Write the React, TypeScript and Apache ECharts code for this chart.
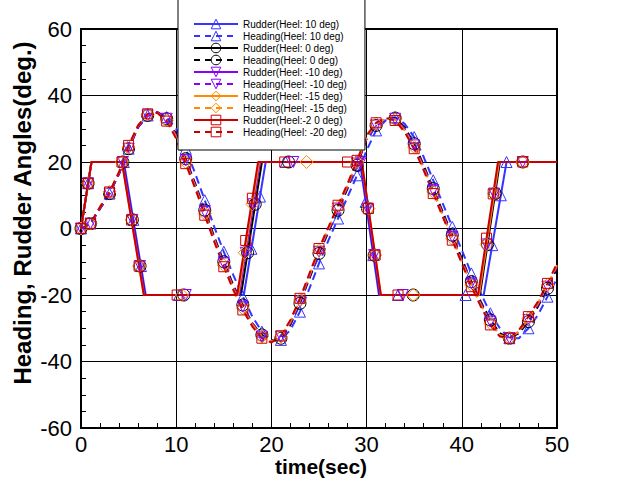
import React, { useEffect, useRef } from "react";
import * as echarts from "echarts";

const FONT = "'Liberation Sans', Arial, Helvetica, sans-serif";

// time grid of heading samples (s)
const timeSec = [
  0, 1, 2, 3, 4, 5, 6, 7, 8, 9, 10, 11, 12, 13, 14, 15, 16, 17, 18, 19, 20, 21, 22, 23, 24, 25,
  26, 27, 28, 29, 30, 31, 32, 33, 34, 35, 36, 37, 38, 39, 40, 41, 42, 43, 44, 45, 46, 47, 48, 49, 50,
];

// Heading (deg) for each heel angle
const headingHeel10 = [
  0, 1.5, 6, 10.5, 16.5, 24, 30.5, 34, 35, 33.5, 30, 24, 16.5, 8.5, 0.5, -7, -14, -20.5, -26.5, -31,
  -33.5, -33.5, -30.5, -25, -18, -10.5, -3.5, 3, 9.5, 16, 23.5, 29.5, 32.5, 33.5, 31.5, 27.5, 21.5,
  14.5, 7.5, 0.5, -6.5, -13.5, -19.5, -25.5, -30, -33, -33, -30, -26, -20.5, -15,
];
const headingHeel0 = [
  0, 1.5, 6, 10.5, 16.5, 24, 30.5, 34, 35, 33, 28.5, 21, 13.5, 5.5, -2.5, -10, -17, -23, -28.5, -32,
  -34, -33, -29, -22.5, -15, -7.5, -1, 5.5, 12, 19, 27, 31, 33, 33.2, 30.5, 25.5, 19, 12, 5, -2, -9,
  -16, -22, -27.5, -31.5, -33, -31.5, -28, -23.5, -18, -12,
];
const headingHeelM10 = [
  0, 1.5, 6, 10.5, 16.5, 24, 30.5, 34, 35, 33, 28, 20.5, 13, 5, -3, -10.5, -17.5, -23.5, -28.5, -32.5,
  -34, -32.5, -28.5, -22, -14.5, -7, -0.5, 6, 12.5, 19.5, 27, 31, 33, 33, 30, 25, 18.5, 11.5, 4.5,
  -2.5, -9.5, -16.5, -22.5, -28, -32, -33, -31, -27.5, -23, -17.5, -11.5,
];
const headingHeelM15 = [
  0, 1.5, 6.5, 11, 17, 24.5, 31, 34.3, 34.8, 32.5, 27.5, 20, 12.5, 4.5, -3.5, -11, -18, -24, -29,
  -32.5, -34, -32.5, -28, -21.5, -14, -6.5, 0, 6.5, 13, 20, 27.5, 31.5, 33, 32.8, 29.5, 24.5, 18, 11,
  4, -3, -10, -17, -23, -28.5, -32, -33, -31, -27, -22.5, -17, -11,
];
const headingHeelM20 = [
  0, 1.5, 6.5, 11, 17, 25, 31, 34.5, 34.8, 32.3, 27, 19.5, 12, 4, -4, -11.5, -18.5, -24.5, -29.5, -33,
  -34.3, -32.3, -27.5, -21, -13.5, -6, 0.5, 7, 13.5, 20.5, 28, 31.8, 33.2, 32.5, 29, 24, 17.5, 10.5,
  3.5, -3.5, -10.5, -17.5, -23.5, -29, -32.5, -33, -30.5, -26.5, -22, -16.5, -10.5,
];

// Rudder (deg): [time, angle, marker shown (1/0)]
const rudderHeel10 = [
  [0, 0, 1], [0.75, 13.6, 1], [1.1, 20, 0], [4.5, 20, 1], [5.5, 2.6, 1], [6.3, -11.3, 1], [6.8, -20, 0],
  [10.3, -20, 1], [17.1, -20, 0], [17.9, -6.1, 1], [18.8, 9.6, 1], [19.4, 20, 0], [21.5, 20, 1],
  [29.3, 20, 0], [29.9, 8, 1], [30.7, -8, 1], [31.3, -20, 0], [33.3, -20, 1], [40.4, -20, 1],
  [42.3, -20, 0], [43.2, -5, 1], [44.1, 10, 1], [44.7, 20, 1], [50, 20, 0],
];
const rudderHeel0 = [
  [0, 0, 1], [0.75, 13.6, 1], [1.1, 20, 0], [4.4, 20, 1], [5.4, 2.6, 1], [6.2, -11.3, 1], [6.7, -20, 0],
  [10.8, -20, 1], [16.8, -20, 0], [17.5, -7.3, 1], [18.3, 7.3, 1], [19, 20, 0], [21.8, 20, 1],
  [29.4, 20, 0], [30.1, 6, 1], [30.8, -8, 1], [31.4, -20, 0], [34.9, -20, 1], [41.9, -20, 0],
  [42.7, -4.8, 1], [43.5, 10.5, 1], [44, 20, 0], [46.4, 20, 1], [50, 20, 0],
];
const rudderHeelM10 = [
  [0, 0, 1], [0.75, 13.6, 1], [1.1, 20, 0], [4.4, 20, 1], [5.4, 2.6, 1], [6.2, -11.3, 1], [6.7, -20, 0],
  [11, -20, 1], [16.6, -20, 0], [17.3, -7.3, 1], [18.1, 7.3, 1], [18.8, 20, 0], [22.3, 20, 1],
  [29.4, 20, 1], [30.1, 6, 1], [30.8, -8, 1], [31.4, -20, 0], [33.8, -20, 1], [41.8, -20, 0],
  [42.6, -4.8, 1], [43.4, 10.5, 1], [43.9, 20, 0], [46.4, 20, 1], [50, 20, 0],
];
const rudderHeelM15 = [
  [0, 0, 1], [0.75, 13.6, 1], [1.1, 20, 0], [4.3, 20, 1], [5.3, 2.6, 1], [6.1, -11.3, 1], [6.6, -20, 0],
  [10.6, -20, 1], [16.5, -20, 0], [17.2, -7.3, 1], [18, 7.3, 1], [18.7, 20, 0], [23.7, 20, 1],
  [29.5, 20, 0], [30.2, 6, 1], [30.9, -8, 1], [31.5, -20, 0], [34.9, -20, 1], [41.8, -20, 0],
  [42.6, -4.8, 1], [43.4, 10.5, 1], [43.9, 20, 0], [46.4, 20, 1], [50, 20, 0],
];
const rudderHeelM20 = [
  [0, 0, 1], [0.75, 13.6, 1], [1.1, 20, 0], [4.3, 20, 1], [5.3, 2.6, 1], [6.1, -11.3, 1], [6.6, -20, 0],
  [10.1, -20, 1], [16.4, -20, 0], [17.3, -3.6, 1], [18, 9.1, 1], [18.6, 20, 0], [21.4, 20, 1],
  [28, 20, 1], [29.5, 20, 0], [30.2, 6, 1], [30.9, -8, 1], [31.5, -20, 0], [33.3, -20, 1],
  [41.7, -20, 0], [42.6, -2.9, 1], [43.3, 10.4, 1], [43.8, 20, 0], [46.4, 20, 1], [50, 20, 0],
];

const xTicks = [0, 10, 20, 30, 40, 50];
const yTicks = [-60, -40, -20, 0, 20, 40, 60];

const TRI_DOWN = "path://M0,0 L10,0 L5,9 Z";

const cases = [
  { rName: "Rudder(Heel: 10 deg)", hName: "Heading(Heel: 10 deg)", color: "#3535ff", symbol: "triangle", size: 11, rudder: rudderHeel10, heading: headingHeel10 },
  { rName: "Rudder(Heel: 0 deg)", hName: "Heading(Heel: 0 deg)", color: "#000000", symbol: "circle", size: 12, rudder: rudderHeel0, heading: headingHeel0 },
  { rName: "Rudder(Heel: -10 deg)", hName: "Heading(Heel: -10 deg)", color: "#8a00ff", symbol: TRI_DOWN, size: 11, rudder: rudderHeelM10, heading: headingHeelM10 },
  { rName: "Rudder(Heel: -15 deg)", hName: "Heading(Heel: -15 deg)", color: "#ff8a00", symbol: "diamond", size: 13, rudder: rudderHeelM15, heading: headingHeelM15 },
  { rName: "Rudder(Heel:-2 0 deg)", hName: "Heading(Heel: -20 deg)", color: "#c80000", symbol: "rect", size: 10, rudder: rudderHeelM20, heading: headingHeelM20 },
];

export default function App() {
  const ref = useRef<HTMLDivElement>(null);
  useEffect(() => {
    if (!ref.current) return;
    const chart = echarts.init(ref.current, null, { renderer: "svg" });
    const series: any[] = [];
    const legendData: any[] = [];
    cases.forEach((c) => {
      const common = {
        type: "line",
        showSymbol: true,
        showAllSymbol: true,
        symbol: c.symbol,
        symbolSize: c.size,
        itemStyle: { color: "rgba(0,0,0,0)", borderColor: c.color, borderWidth: 1 },
        emphasis: { disabled: true },
        silent: true,
        clip: true,
      };
      series.push({
        ...common,
        name: c.rName,
        lineStyle: { color: c.color, width: 2, type: "solid" },
        data: c.rudder.map(([t, v, m]) => (m ? [t, v] : { value: [t, v], symbol: "none" })),
      });
      series.push({
        ...common,
        name: c.hName,
        lineStyle: { color: c.color, width: 2, type: [8, 5] },
        data: timeSec.map((t, i) =>
          i % 2 === 1 ? [t, c.heading[i]] : { value: [t, c.heading[i]], symbol: "none" }
        ),
      });
      legendData.push({
        name: c.rName,
        itemStyle: { color: "rgba(0,0,0,0)", borderColor: c.color, borderWidth: 1 },
        lineStyle: { color: c.color, width: 2, type: "solid" },
      });
      legendData.push({
        name: c.hName,
        itemStyle: { color: "rgba(0,0,0,0)", borderColor: c.color, borderWidth: 1 },
        lineStyle: { color: c.color, width: 2, type: [6, 5] },
      });
    });

    chart.setOption({
      animation: false,
      backgroundColor: "#ffffff",
      textStyle: { fontFamily: FONT },
      grid: {
        left: 81,
        right: 77,
        top: 29,
        bottom: 61,
        show: true,
        borderColor: "#000",
        borderWidth: 2,
        containLabel: false,
      },
      xAxis: {
        type: "value",
        min: xTicks[0],
        max: xTicks[xTicks.length - 1],
        interval: 10,
        axisLine: { show: true, onZero: false, lineStyle: { color: "#000", width: 2 } },
        axisTick: { show: true, inside: true, length: 7, lineStyle: { color: "#000" } },
        minorTick: { show: true, splitNumber: 5, length: 5, lineStyle: { color: "#000" } },
        splitLine: { show: true, lineStyle: { color: "#000", width: 1 } },
        axisLabel: { color: "#000", fontSize: 22, margin: 5, fontFamily: FONT },
      },
      yAxis: {
        type: "value",
        min: yTicks[0],
        max: yTicks[yTicks.length - 1],
        interval: 20,
        axisLine: { show: true, onZero: false, lineStyle: { color: "#000", width: 2 } },
        axisTick: { show: true, inside: true, length: 7, lineStyle: { color: "#000" } },
        minorTick: { show: true, splitNumber: 4, length: 5, lineStyle: { color: "#000" } },
        splitLine: { show: true, lineStyle: { color: "#000", width: 1 } },
        axisLabel: { color: "#000", fontSize: 22, margin: 9, fontFamily: FONT },
      },
      legend: {
        orient: "vertical",
        left: 178,
        top: -1,
        padding: [19, 18, 12, 15],
        itemWidth: 44,
        itemHeight: 12,
        itemGap: 0,
        backgroundColor: "#ffffff",
        borderColor: "#000",
        borderWidth: 1,
        selectedMode: false,
        textStyle: { fontSize: 10, lineHeight: 12, color: "#000", fontFamily: FONT },
        data: legendData,
        z: 10,
      },
      graphic: [
        {
          type: "text",
          x: 321,
          y: 466,
          style: {
            text: "time(sec)",
            fontSize: 21,
            fontWeight: "bold",
            fontFamily: FONT,
            fill: "#000",
            textAlign: "center",
            textVerticalAlign: "middle",
          },
          z: 20,
        },
        {
          type: "text",
          x: 22,
          y: 213,
          rotation: Math.PI / 2,
          style: {
            text: "Heading, Rudder Angles(deg.)",
            fontSize: 24,
            fontWeight: "bold",
            fontFamily: FONT,
            fill: "#000",
            textAlign: "center",
            textVerticalAlign: "middle",
          },
          z: 20,
        },
      ],
      series,
    });
    return () => chart.dispose();
  }, []);
  return (
    <div
      ref={ref}
      style={{ position: "fixed", left: 0, top: 0, width: 634, height: 489, background: "#fff" }}
    />
  );
}
